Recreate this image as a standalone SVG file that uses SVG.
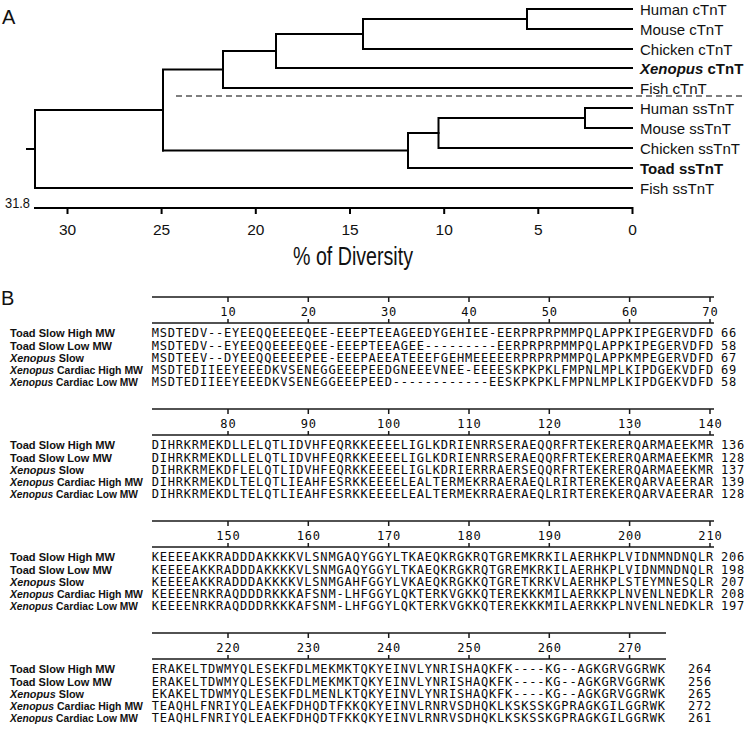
<svg xmlns="http://www.w3.org/2000/svg" width="745" height="735" viewBox="0 0 745 735">
<style>
.bg{fill:#fff}
.tr{fill:none;stroke:#000;stroke-width:2;stroke-linecap:square}
.lf{font-family:"Liberation Sans",Arial,sans-serif;font-size:15px;fill:#111}
.bd{font-weight:bold}
.it{font-style:italic}
.ax{font-family:"Liberation Sans",Arial,sans-serif;font-size:15.5px;fill:#111;text-anchor:middle}
.pl{font-family:"Liberation Sans",Arial,sans-serif;font-size:20px;fill:#111}
.rl{fill:none;stroke:#1a1a1a;stroke-width:1.5}
.sq{font-family:"DejaVu Sans Mono",monospace;font-size:12px;letter-spacing:0.808px;fill:#0a0a0a}
.tn{font-family:"DejaVu Sans Mono",monospace;font-size:12px;letter-spacing:0.808px;fill:#0a0a0a;text-anchor:middle}
.lb{font-family:"Liberation Sans",Arial,sans-serif;font-size:11px;font-weight:bold;fill:#111}
</style>
<rect class="bg" x="0" y="0" width="745" height="735"/>

<g id="panelA">
<text class="pl" x="2" y="24">A</text>
<g id="tree-connectors">
<path class="tr" d="M632,9 H527 V29 H632"/>
<path class="tr" d="M527,19 H363 V49 H632"/>
<path class="tr" d="M363,34 H276 V68 H632"/>
<path class="tr" d="M276,51 H223 V88 H632"/>
<path class="tr" d="M223,69.5 H163 V150.5"/>
<path class="tr" d="M632,108 H585 V128 H632"/>
<path class="tr" d="M585,118 H438.5 V148 H632"/>
<path class="tr" d="M438.5,133 H408 V168 H632"/>
<path class="tr" d="M408,150.5 H163"/>
<path class="tr" d="M163,110 H35 V188 H632"/>
<path class="tr" d="M27,149 H35"/>
<path d="M176,96 H745" fill="none" stroke="#555" stroke-width="1.3" stroke-dasharray="6 4"/>
</g>
<g id="leaf-human-ctnt"><text class="lf" x="640" y="14.5">Human cTnT</text></g>
<g id="leaf-mouse-ctnt"><text class="lf" x="640" y="34.5">Mouse cTnT</text></g>
<g id="leaf-chicken-ctnt"><text class="lf" x="640" y="54.5">Chicken cTnT</text></g>
<g id="leaf-xenopus-ctnt"><text class="lf bd" x="640" y="73.5"><tspan class="it">Xenopus</tspan> cTnT</text></g>
<g id="leaf-fish-ctnt"><text class="lf" x="640" y="93.5">Fish cTnT</text></g>
<g id="leaf-human-sstnt"><text class="lf" x="640" y="113.5">Human ssTnT</text></g>
<g id="leaf-mouse-sstnt"><text class="lf" x="640" y="133.5">Mouse ssTnT</text></g>
<g id="leaf-chicken-sstnt"><text class="lf" x="640" y="153.5">Chicken ssTnT</text></g>
<g id="leaf-toad-sstnt"><text class="lf bd" x="640" y="173.5">Toad ssTnT</text></g>
<g id="leaf-fish-sstnt"><text class="lf" x="640" y="193.5">Fish ssTnT</text></g>
<g id="axis">
<path class="tr" d="M35,208 H632.5 M67.5,208 v5 M161.6,208 v5 M255.8,208 v5 M350,208 v5 M444.2,208 v5 M538.3,208 v5 M632.5,208 v5"/>
<text class="ax" x="17.5" y="208" style="font-size:14px" textLength="25" lengthAdjust="spacingAndGlyphs">31.8</text>
<text class="ax" x="67.5" y="235">30</text>
<text class="ax" x="161.6" y="235">25</text>
<text class="ax" x="255.8" y="235">20</text>
<text class="ax" x="350" y="235">15</text>
<text class="ax" x="444.2" y="235">10</text>
<text class="ax" x="538.3" y="235">5</text>
<text class="ax" x="632.5" y="235">0</text>
<text class="ax" x="353" y="265" style="font-size:25px" textLength="120" lengthAdjust="spacingAndGlyphs">% of Diversity</text>
</g>
</g>

<g id="panelB">
<text class="pl" x="1" y="305">B</text>

<g id="block1">
<path class="rl" d="M152,297 H714 M228,297 v5 M308.3,297 v5 M388.7,297 v5 M469,297 v5 M549.3,297 v5 M629.6,297 v5 M710,297 v5 M152,323 H714 M228,323 v-4 M308.3,323 v-4 M388.7,323 v-4 M469,323 v-4 M549.3,323 v-4 M629.6,323 v-4 M710,323 v-4"/>
<text class="tn" x="228.4" y="315.5">10</text><text class="tn" x="308.7" y="315.5">20</text><text class="tn" x="389.1" y="315.5">30</text><text class="tn" x="469.4" y="315.5">40</text><text class="tn" x="549.7" y="315.5">50</text><text class="tn" x="630" y="315.5">60</text><text class="tn" x="710.4" y="315.5">70</text>
<text class="lb" x="10" y="337.2" textLength="105" lengthAdjust="spacingAndGlyphs">Toad Slow High MW</text>
<text class="lb" x="10" y="349.5" textLength="102" lengthAdjust="spacingAndGlyphs">Toad Slow Low MW</text>
<text class="lb" x="10" y="361.8" textLength="74" lengthAdjust="spacingAndGlyphs"><tspan class="it">Xenopus</tspan> Slow</text>
<text class="lb" x="10" y="374.1" textLength="133" lengthAdjust="spacingAndGlyphs"><tspan class="it">Xenopus</tspan> Cardiac High MW</text>
<text class="lb" x="10" y="386.4" textLength="128" lengthAdjust="spacingAndGlyphs"><tspan class="it">Xenopus</tspan> Cardiac Low MW</text>
<text class="sq" x="151.7" y="337.2">MSDTEDV--EYEEQQEEEEQEE-EEEPTEEAGEEDYGEHIEE-EERPRPRPMMPQLAPPKIPEGERVDFD</text>
<text class="sq" x="151.7" y="349.5">MSDTEDV--EYEEQQEEEEQEE-EEEPTEEAGEE---------EERPRPRPMMPQLAPPKIPEGERVDFD</text>
<text class="sq" x="151.7" y="361.8">MSDTEEV--DYEEQQEEEEPEE-EEEPAEEATEEEFGEHMEEEEERPRPRPMMPQLAPPKMPEGERVDFD</text>
<text class="sq" x="151.7" y="374.1">MSDTEDIIEEYEEEDKVSENEGGEEEPEEDGNEEEVNEE-EEEESKPKPKLFMPNLMPLKIPDGEKVDFD</text>
<text class="sq" x="151.7" y="386.4">MSDTEDIIEEYEEEDKVSENEGGEEEPEED------------EESKPKPKLFMPNLMPLKIPDGEKVDFD</text>
<text class="sq" x="721" y="337.2">66</text><text class="sq" x="721" y="349.5">58</text><text class="sq" x="721" y="361.8">67</text><text class="sq" x="721" y="374.1">69</text><text class="sq" x="721" y="386.4">58</text>
</g>

<g id="block2">
<path class="rl" d="M152,409 H714 M228,409 v5 M308.3,409 v5 M388.7,409 v5 M469,409 v5 M549.3,409 v5 M629.6,409 v5 M710,409 v5 M152,435 H714 M228,435 v-4 M308.3,435 v-4 M388.7,435 v-4 M469,435 v-4 M549.3,435 v-4 M629.6,435 v-4 M710,435 v-4"/>
<text class="tn" x="228.4" y="427.5">80</text><text class="tn" x="308.7" y="427.5">90</text><text class="tn" x="389.1" y="427.5">100</text><text class="tn" x="469.4" y="427.5">110</text><text class="tn" x="549.7" y="427.5">120</text><text class="tn" x="630" y="427.5">130</text><text class="tn" x="710.4" y="427.5">140</text>
<text class="lb" x="10" y="449.2" textLength="105" lengthAdjust="spacingAndGlyphs">Toad Slow High MW</text>
<text class="lb" x="10" y="461.5" textLength="102" lengthAdjust="spacingAndGlyphs">Toad Slow Low MW</text>
<text class="lb" x="10" y="473.8" textLength="74" lengthAdjust="spacingAndGlyphs"><tspan class="it">Xenopus</tspan> Slow</text>
<text class="lb" x="10" y="486.1" textLength="133" lengthAdjust="spacingAndGlyphs"><tspan class="it">Xenopus</tspan> Cardiac High MW</text>
<text class="lb" x="10" y="498.4" textLength="128" lengthAdjust="spacingAndGlyphs"><tspan class="it">Xenopus</tspan> Cardiac Low MW</text>
<text class="sq" x="151.7" y="449.2">DIHRKRMEKDLLELQTLIDVHFEQRKKEEEELIGLKDRIENRRSERAEQQRFRTEKERERQARMAEEKMR</text>
<text class="sq" x="151.7" y="461.5">DIHRKRMEKDLLELQTLIDVHFEQRKKEEEELIGLKDRIENRRSERAEQQRFRTEKERERQARMAEEKMR</text>
<text class="sq" x="151.7" y="473.8">DIHRKRMEKDFLELQTLIDVHFEQRKKEEEELIGLKDRIERRRAERSEQQRFRTEKERERQARMAEEKMR</text>
<text class="sq" x="151.7" y="486.1">DIHRKRMEKDLTELQTLIEAHFESRKKEEEELEALTERMEKRRAERAEQLRIRTEREKERQARVAEERAR</text>
<text class="sq" x="151.7" y="498.4">DIHRKRMEKDLTELQTLIEAHFESRKKEEEELEALTERMEKRRAERAEQLRIRTEREKERQARVAEERAR</text>
<text class="sq" x="721" y="449.2">136</text><text class="sq" x="721" y="461.5">128</text><text class="sq" x="721" y="473.8">137</text><text class="sq" x="721" y="486.1">139</text><text class="sq" x="721" y="498.4">128</text>
</g>

<g id="block3">
<path class="rl" d="M152,521 H714 M228,521 v5 M308.3,521 v5 M388.7,521 v5 M469,521 v5 M549.3,521 v5 M629.6,521 v5 M710,521 v5 M152,547 H714 M228,547 v-4 M308.3,547 v-4 M388.7,547 v-4 M469,547 v-4 M549.3,547 v-4 M629.6,547 v-4 M710,547 v-4"/>
<text class="tn" x="228.4" y="539.5">150</text><text class="tn" x="308.7" y="539.5">160</text><text class="tn" x="389.1" y="539.5">170</text><text class="tn" x="469.4" y="539.5">180</text><text class="tn" x="549.7" y="539.5">190</text><text class="tn" x="630" y="539.5">200</text><text class="tn" x="710.4" y="539.5">210</text>
<text class="lb" x="10" y="561.2" textLength="105" lengthAdjust="spacingAndGlyphs">Toad Slow High MW</text>
<text class="lb" x="10" y="573.5" textLength="102" lengthAdjust="spacingAndGlyphs">Toad Slow Low MW</text>
<text class="lb" x="10" y="585.8" textLength="74" lengthAdjust="spacingAndGlyphs"><tspan class="it">Xenopus</tspan> Slow</text>
<text class="lb" x="10" y="598.1" textLength="133" lengthAdjust="spacingAndGlyphs"><tspan class="it">Xenopus</tspan> Cardiac High MW</text>
<text class="lb" x="10" y="610.4" textLength="128" lengthAdjust="spacingAndGlyphs"><tspan class="it">Xenopus</tspan> Cardiac Low MW</text>
<text class="sq" x="151.7" y="561.2">KEEEEAKKRADDDAKKKKVLSNMGAQYGGYLTKAEQKRGKRQTGREMKRKILAERHKPLVIDNMNDNQLR</text>
<text class="sq" x="151.7" y="573.5">KEEEEAKKRADDDAKKKKVLSNMGAQYGGYLTKAEQKRGKRQTGREMKRKILAERHKPLVIDNMNDNQLR</text>
<text class="sq" x="151.7" y="585.8">KEEEEAKKRADDDAKKKKVLSNMGAHFGGYLVKAEQKRGKKQTGRETKRKVLAERHKPLSTEYMNESQLR</text>
<text class="sq" x="151.7" y="598.1">KEEEENRKRAQDDDRKKKAFSNM-LHFGGYLQKTERKVGKKQTEREKKKMILAERKKPLNVENLNEDKLR</text>
<text class="sq" x="151.7" y="610.4">KEEEENRKRAQDDDRKKKAFSNM-LHFGGYLQKTERKVGKKQTEREKKKMILAERKKPLNVENLNEDKLR</text>
<text class="sq" x="721" y="561.2">206</text><text class="sq" x="721" y="573.5">198</text><text class="sq" x="721" y="585.8">207</text><text class="sq" x="721" y="598.1">208</text><text class="sq" x="721" y="610.4">197</text>
</g>

<g id="block4">
<path class="rl" d="M152,633 H666 M228,633 v5 M308.3,633 v5 M388.7,633 v5 M469,633 v5 M549.3,633 v5 M629.6,633 v5 M152,659 H666 M228,659 v-4 M308.3,659 v-4 M388.7,659 v-4 M469,659 v-4 M549.3,659 v-4 M629.6,659 v-4"/>
<text class="tn" x="228.4" y="651.5">220</text><text class="tn" x="308.7" y="651.5">230</text><text class="tn" x="389.1" y="651.5">240</text><text class="tn" x="469.4" y="651.5">250</text><text class="tn" x="549.7" y="651.5">260</text><text class="tn" x="630" y="651.5">270</text>
<text class="lb" x="10" y="673.2" textLength="105" lengthAdjust="spacingAndGlyphs">Toad Slow High MW</text>
<text class="lb" x="10" y="685.5" textLength="102" lengthAdjust="spacingAndGlyphs">Toad Slow Low MW</text>
<text class="lb" x="10" y="697.8" textLength="74" lengthAdjust="spacingAndGlyphs"><tspan class="it">Xenopus</tspan> Slow</text>
<text class="lb" x="10" y="710.1" textLength="133" lengthAdjust="spacingAndGlyphs"><tspan class="it">Xenopus</tspan> Cardiac High MW</text>
<text class="lb" x="10" y="722.4" textLength="128" lengthAdjust="spacingAndGlyphs"><tspan class="it">Xenopus</tspan> Cardiac Low MW</text>
<text class="sq" x="151.7" y="673.2">ERAKELTDWMYQLESEKFDLMEKMKTQKYEINVLYNRISHAQKFK----KG--AGKGRVGGRWK</text>
<text class="sq" x="151.7" y="685.5">ERAKELTDWMYQLESEKFDLMEKMKTQKYEINVLYNRISHAQKFK----KG--AGKGRVGGRWK</text>
<text class="sq" x="151.7" y="697.8">EKAKELTDWMYQLESEKFDLMENLKTQKYEINVLYNRISHAQKFK----KG--AGKGRVGGRWK</text>
<text class="sq" x="151.7" y="710.1">TEAQHLFNRIYQLEAEKFDHQDTFKKQKYEINVLRNRVSDHQKLKSKSSKGPRAGKGILGGRWK</text>
<text class="sq" x="151.7" y="722.4">TEAQHLFNRIYQLEAEKFDHQDTFKKQKYEINVLRNRVSDHQKLKSKSSKGPRAGKGILGGRWK</text>
<text class="sq" x="688" y="673.2">264</text><text class="sq" x="688" y="685.5">256</text><text class="sq" x="688" y="697.8">265</text><text class="sq" x="688" y="710.1">272</text><text class="sq" x="688" y="722.4">261</text>
</g>
</g>
</svg>
